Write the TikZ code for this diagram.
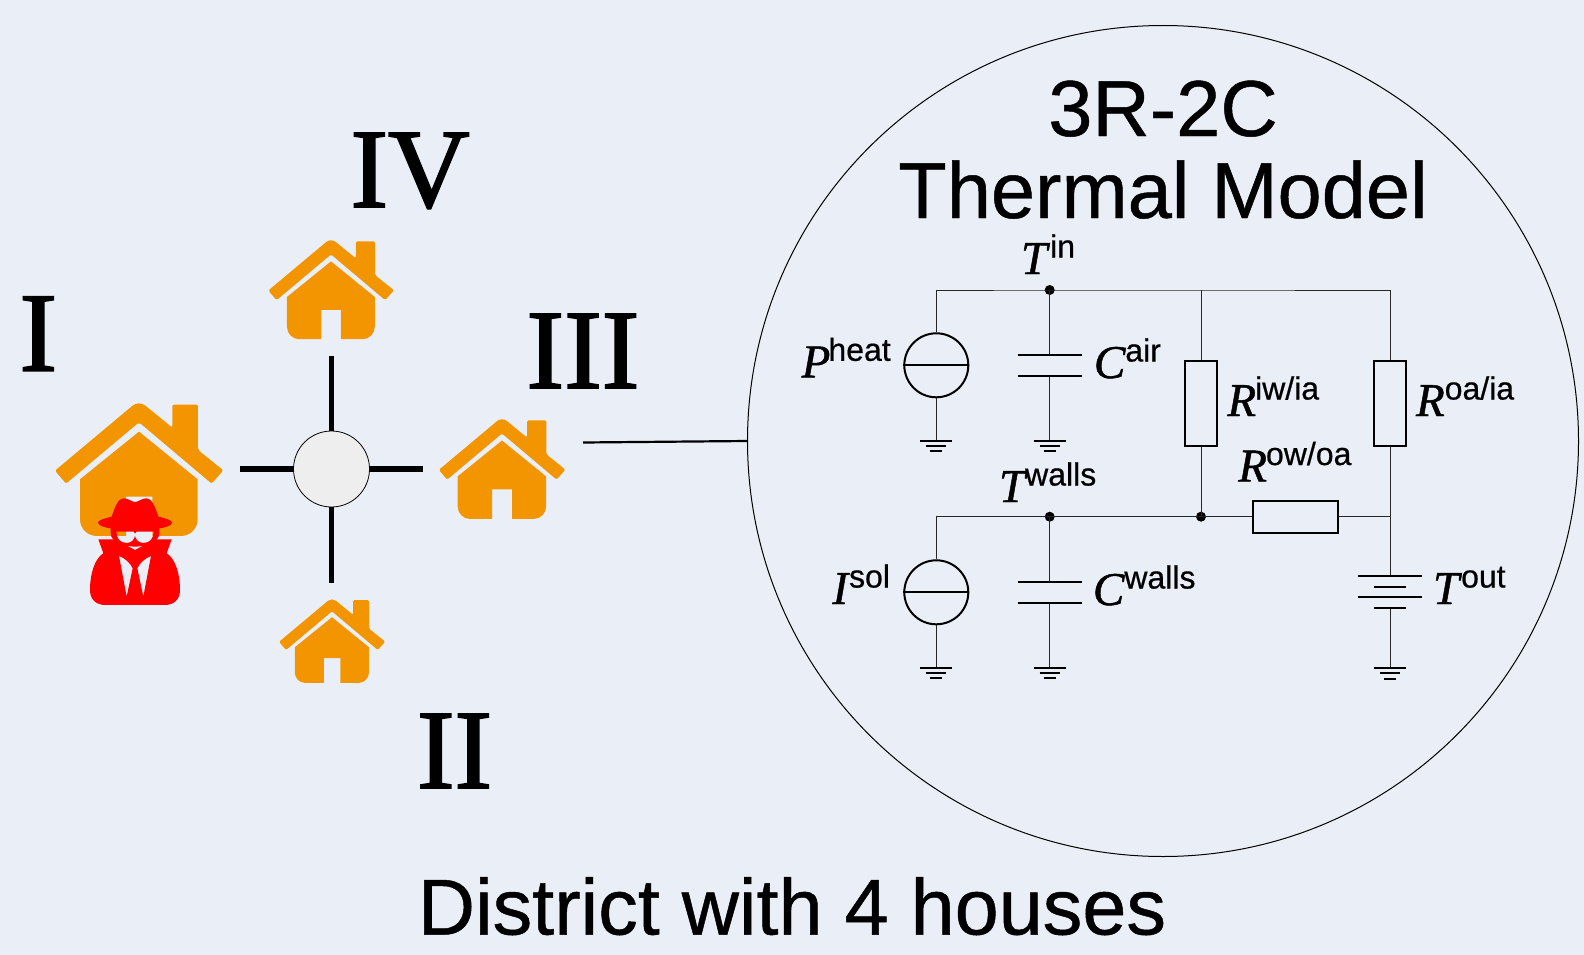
\documentclass[tikz,border=0pt]{standalone}
\usepackage{fontspec}
\setmainfont[FakeBold=1]{Liberation Serif}
\setsansfont[FakeBold=0.6]{Liberation Sans}
\newfontfamily\numfont[FakeBold=1.7]{Liberation Serif}
\definecolor{bgc}{HTML}{EAEFF7}
\definecolor{houseorange}{HTML}{F39500}
\definecolor{hubc}{HTML}{EEEEEE}
\newcommand{\fsz}[1]{\fontsize{#1}{#1}\selectfont}
% label: base letter in serif italic, raised sans superscript
\newcommand{\supl}[3][0pt]{{\fsz{47}\rmfamily\itshape #2}\kern#1\raisebox{16.5pt}{\fsz{32}\sffamily #3}}
\newcommand{\housefig}[4]{%
\begin{scope}[shift={(#1,#2)},x=#3pt,y=-#3pt]
\begin{scope}[shift={(-297,-43)}]
\fill[houseorange,line join=round]
 [rounded corners=#3*6pt] (45,242) -- (273,51) .. controls (288,38) and (306,38) .. (321,51)
 -- (397,113) -- (397,44) -- (474,44) -- (474,180) -- (550,241) -- (515,281) -- (297,97) -- (78,281) -- cycle;
\fill[houseorange]
 (120,268) -- (297,125) -- (473,268) [rounded corners=#3*50pt] -- (473,438) [sharp corners] -- (337,438) -- (337,320) -- (258,320) -- (258,438) [rounded corners=#3*50pt] -- (120,438) [sharp corners] -- cycle;
#4
\end{scope}
\end{scope}}
\newcommand{\spyfig}{%
\fill[red,even odd rule]
 (212,398) -- (215,380) .. controls (225,350) and (235,325) .. (250,325) .. controls (265,325) and (275,336) .. (285,336) .. controls (295,336) and (305,325) .. (320,325) .. controls (335,325) and (345,350) .. (355,380)
 .. controls (375,385) and (396,390) .. (396,398) .. controls (396,408) and (370,414) .. (358,415)
 -- (358,430) .. controls (358,455) and (320,470) .. (285,470) .. controls (250,470) and (212,455) .. (212,430) -- (212,415)
 .. controls (200,414) and (174,408) .. (174,398) .. controls (174,390) and (195,385) .. (215,380) -- cycle
 (229,425) -- (281,425) .. controls (282,430) and (283,431) .. (285,431) .. controls (287,431) and (288,430) .. (289,425) -- (341,425)
 .. controls (341,445) and (330,459) .. (310,459) .. controls (295,459) and (287,448) .. (285,438)
 .. controls (283,448) and (275,459) .. (260,459) .. controls (240,459) and (229,445) .. (229,425) -- cycle;
\fill[red,even odd rule]
 (175,448) -- (225,448) -- (285,480) -- (345,448) -- (395,448) -- (380,490) .. controls (405,505) and (420,550) .. (420,600) .. controls (420,630) and (400,645) .. (375,645) -- (195,645) .. controls (170,645) and (150,630) .. (150,600) .. controls (150,550) and (165,505) .. (190,490) -- cycle
 (237,498) .. controls (255,505) and (270,518) .. (278,535) -- (260,620) -- cycle
 (333,498) .. controls (315,505) and (300,518) .. (292,535) -- (310,620) -- cycle;
}
\tikzset{
 wire/.style={line width=1pt,black!85},
 heavy/.style={line width=2pt,black},
 srcnode/.style={circle,draw,line width=2pt,minimum size=64pt,inner sep=0pt},
 resnode/.style={rectangle,draw,line width=2pt,inner sep=0pt},
 junction/.style={circle,fill=black,minimum size=10pt,inner sep=0pt},
 lbl/.style={anchor=base west,inner sep=0pt,outer sep=0pt},
 numeral/.style={anchor=base,inner sep=0pt,font=\fsz{113}\numfont},
 title/.style={anchor=base,inner sep=0pt,font=\fsz{79.4}\sffamily},
 arm/.style={line width=5.6pt,black},
 gnd/.pic={
  \draw[heavy] (-16,0) -- (16,0);
  \draw[heavy] (-10,5.3) -- (10,5.3);
  \draw[heavy] (-6,10.6) -- (6,10.6);
 },
 capplates/.pic={
  \draw[heavy] (-32,0) -- (32,0);
  \draw[heavy] (-32,21.3) -- (32,21.3);
 },
}
\begin{document}
\begin{tikzpicture}[x=1pt,y=-1pt]
\useasboundingbox (0,0) rectangle (1584,955);
\fill[bgc] (0,0) rectangle (1584,955);

% big circle and link
\node[circle,draw,line width=1pt,minimum size=831pt,inner sep=0pt] (zoomc) at (1163,441) {};
\coordinate (linkstart) at (583,442.5);
\draw[line width=2.2pt] (linkstart) -- (zoomc.west);

% houses
\housefig{139}{404.3}{0.3333}{\spyfig}
\housefig{331}{241}{0.2487}{}
\housefig{502}{420}{0.2505}{}
\housefig{332}{600}{0.21}{}

% hub
\node[circle,draw,fill=hubc,line width=0.8pt,minimum size=76pt,inner sep=0pt] (hub) at (331.5,469) {};
\coordinate (armW) at (239.5,469);
\coordinate (armE) at (423,469);
\coordinate (armN) at (331.5,355.5);
\coordinate (armS) at (331.5,583);
\draw[arm] (hub.west) -- (armW);
\draw[arm] (hub.east) -- (armE);
\draw[arm] (hub.north) -- (armN);
\draw[arm] (hub.south) -- (armS);

% numerals and titles
\node[numeral] (nI) at (38.4,370.7) {I};
\node[numeral] (nII) at (454.6,788) {II};
\node[numeral] (nIII) at (583,388) {III};
\node[numeral] (nIV) at (410,207) {IV};
\node[title] (t1) at (1163,136) {3R-2C};
\node[title] (t2) at (1163,218) {Thermal Model};
\node[title,font=\fsz{79.2}\sffamily] (t3) at (792,934.5) {District with 4 houses};

% circuit nodes
\node[junction] (J1) at (1049.7,290) {};
\node[junction] (J2) at (1049.7,516.7) {};
\node[junction] (J3) at (1201,516.7) {};
\coordinate (TR) at (1390,290);
\coordinate (TM) at (1201,290);
\coordinate (MR) at (1390,516.7);
\node[srcnode] (S1) at (936.3,365.3) {};
\node[srcnode] (S2) at (936.3,592.3) {};
\node[resnode,minimum width=32.6pt,minimum height=85pt] (R1) at (1201,403.2) {};
\node[resnode,minimum width=32.6pt,minimum height=85pt] (R2) at (1390,403.2) {};
\node[resnode,minimum width=85.6pt,minimum height=32pt] (R3) at (1295.5,516.7) {};
\coordinate (G1) at (936.3,440.7);
\coordinate (G2) at (1049.7,440.7);
\coordinate (G3) at (936.3,667.7);
\coordinate (G4) at (1049.7,667.7);
\coordinate (G5) at (1390,668);
\coordinate (C1t) at (1049.7,354.7);
\coordinate (C1b) at (1049.7,376);
\coordinate (C2t) at (1049.7,581.7);
\coordinate (C2b) at (1049.7,603);
\coordinate (Bt) at (1390,576);
\coordinate (Bb) at (1390,608);

% wires
\draw[wire] (S1.north) |- (J1.center) -- (TM) -- (TR) -- (R2.north);
\draw[wire] (TM) -- (R1.north);
\draw[wire] (R1.south) -- (J3.center);
\draw[wire] (R2.south) -- (MR) -- (Bt);
\draw[wire] (S2.north) |- (J2.center) -- (J3.center) -- (R3.west);
\draw[wire] (R3.east) -- (MR);
\draw[wire] (J1.center) -- (C1t);
\draw[wire] (C1b) -- (G2);
\draw[wire] (J2.center) -- (C2t);
\draw[wire] (C2b) -- (G4);
\draw[wire] (S1.south) -- (G1);
\draw[wire] (S2.south) -- (G3);
\draw[wire] (Bb) -- (G5);
\draw[line width=1.8pt] (S1.west) -- (S1.east);
\draw[line width=1.8pt] (S2.west) -- (S2.east);

% components
\pic at (C1t) {capplates};
\pic at (C2t) {capplates};
\pic at (G1) {gnd};
\pic at (G2) {gnd};
\pic at (G3) {gnd};
\pic at (G4) {gnd};
\pic at (G5) {gnd};
\draw[heavy] ([xshift=-32pt]Bt) -- ([xshift=32pt]Bt);
\draw[heavy] (1374,586.7) -- (1406,586.7);
\draw[heavy] (1358,597.3) -- (1422,597.3);
\draw[heavy] ([xshift=-16pt]Bb) -- ([xshift=16pt]Bb);

% labels
\node[lbl] (Lp) at (801.7,377.3) {\supl[-2pt]{P}{heat}};
\node[lbl] (Lca) at (1094,378) {\supl{C}{air}};
\node[lbl] (Lti) at (1021,274) {\supl[3pt]{T}{in}};
\node[lbl] (Lr1) at (1227.4,416) {\supl[-1pt]{R}{iw/ia}};
\node[lbl] (Lr2) at (1416,416) {\supl{R}{oa/ia}};
\node[lbl] (Lr3) at (1238.3,481.5) {\supl[-1pt]{R}{ow/oa}};
\node[lbl] (Ltw) at (999,502) {\supl{T}{walls}};
\node[lbl] (Li) at (832.4,604) {\supl[1pt]{I}{sol}};
\node[lbl] (Lcw) at (1093,605) {\supl{C}{walls}};
\node[lbl] (Lto) at (1433,604) {\supl[2pt]{T}{out}};
\end{tikzpicture}
\end{document}
